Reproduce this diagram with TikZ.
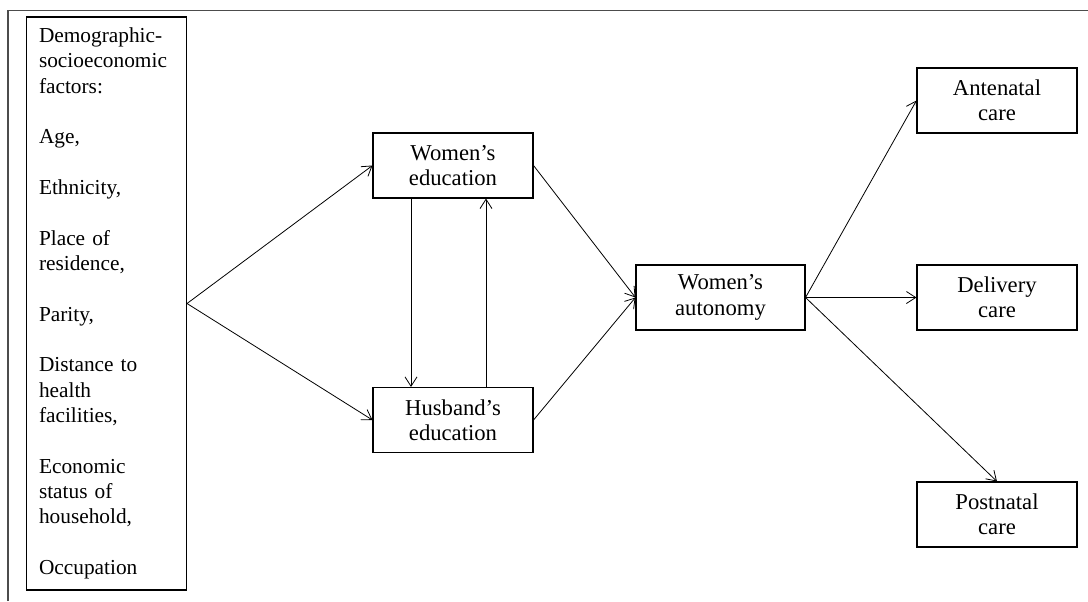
\documentclass[tikz,border=0pt]{standalone}
\usepackage{fontspec}
\setmainfont{Liberation Serif}
\usetikzlibrary{arrows.meta}

\begin{document}
\begin{tikzpicture}[x=0.75pt,y=-0.75pt]
	\tikzset{box/.style={draw,line width=0.8pt,align=center,minimum width=120pt,minimum height=48.75pt,inner sep=2pt,font=\fontsize{17}{19}\selectfont}}
	\tikzset{>={Straight Barb[length=7pt,width=9pt]}}
	\useasboundingbox (0,0) rectangle (1088,601);
	% frame
	\draw[gray!60!black,line width=1.2pt] (8,601) -- (8,10.5) -- (1088,10.5);
	\node[box,align=left,text width=101.25pt,inner xsep=9pt,minimum height=429.75pt,font=\fontsize{16}{19}\selectfont] (factors) at (106.5,303.5) {Demographic-\\socioeconomic\\factors:\\[19pt]Age,\\[19pt]Ethnicity,\\[19pt]Place of\\residence,\\[19pt]Parity,\\[19pt]Distance to\\health\\facilities,\\[19pt]Economic\\status of\\household,\\[19pt]Occupation};
	\node[box] (wedu) at (453,165.5) {Women’s\\education};
	\node[box] (hedu) at (453,420) {Husband’s\\education};
	\node[box,minimum width=126.75pt] (wauto) at (720.5,297.5) {Women’s\\autonomy};
	\node[box] (ante) at (997,100.5) {Antenatal\\care};
	\node[box] (deliv) at (997,297.5) {Delivery\\care};
	\node[box] (post) at (997,514.5) {Postnatal\\care};
	\path[->,line width=0.6pt]
		(factors.east) edge (wedu.west)
		(factors.east) edge (hedu.west)
		([xshift=-31.5pt]wedu.south) edge ([xshift=-31.5pt]hedu.north)
		([xshift=24.75pt]hedu.north) edge ([xshift=24.75pt]wedu.south)
		(wedu.east) edge (wauto.west)
		(hedu.east) edge (wauto.west)
		(wauto.east) edge (ante.west)
		(wauto.east) edge (deliv.west)
		(wauto.east) edge (post.north);
\end{tikzpicture}
\end{document}
